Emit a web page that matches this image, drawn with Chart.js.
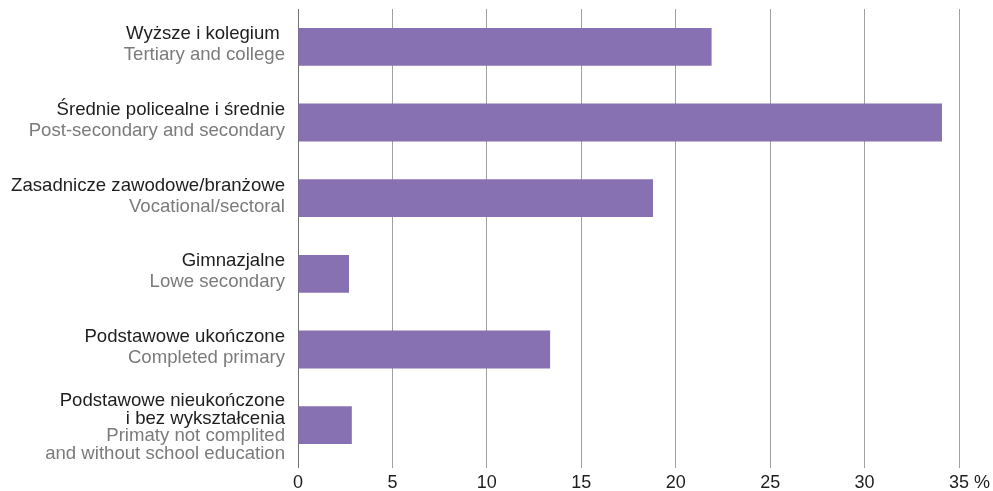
<!DOCTYPE html>
<html>
<head>
<meta charset="utf-8">
<script src="https://cdn.jsdelivr.net/npm/chart.js@4.4.1/dist/chart.umd.min.js"></script>
<style>
  html, body { margin: 0; padding: 0; background: #fff; }
  #wrap { width: 993px; height: 491px; position: relative; }
</style>
</head>
<body>
<div id="wrap"><canvas id="eduChart"></canvas></div>
<script>
const labelsPl = [
    ['Wyższe i kolegium '],
    ['Średnie policealne i średnie'],
    ['Zasadnicze zawodowe/branżowe'],
    ['Gimnazjalne'],
    ['Podstawowe ukończone'],
    ['Podstawowe nieukończone', 'i bez wykształcenia']
];
const labelsEn = [
    ['Tertiary and college'],
    ['Post-secondary and secondary'],
    ['Vocational/sectoral'],
    ['Lowe secondary'],
    ['Completed primary'],
    ['Primaty not complited', 'and without school education']
];
const shares = [21.9, 34.1, 18.8, 2.7, 13.35, 2.85];
const AXIS_MIN = 0;
const AXIS_MAX = 35;
const AXIS_STEP = 5;
const UNIT = '%';

const FONT = '"Liberation Sans", Arial, Helvetica, sans-serif';
const BAR_COLOR = '#8771b2';

// two-colour category labels, drawn next to each bar
const labelPlugin = {
    id: 'twoColourLabels',
    afterDraw(chart) {
        const ctx = chart.ctx;
        const yScale = chart.scales.y;
        const xScale = chart.scales.x;
        ctx.save();
        ctx.font = '18.6px ' + FONT;
        ctx.textAlign = 'right';
        ctx.textBaseline = 'middle';
        labelsPl.forEach((pl, i) => {
            const lines = pl.map(t => ({ t, c: '#1e1e1e' }))
                .concat(labelsEn[i].map(t => ({ t, c: '#7b7b7b' })));
            const lh = lines.length > 2 ? 17.5 : 21;
            const yc = yScale.getPixelForTick(i) - (lines.length > 2 ? -2 : 2);
            lines.forEach((ln, k) => {
                ctx.fillStyle = ln.c;
                ctx.fillText(ln.t, 285, yc + (k - (lines.length - 1) / 2) * lh);
            });
        });
        // unit after the last tick
        ctx.font = '18px ' + FONT;
        const xLast = xScale.getPixelForValue(AXIS_MAX);
        const w = ctx.measureText(String(AXIS_MAX)).width;
        ctx.textAlign = 'left';
        ctx.textBaseline = 'middle';
        ctx.fillStyle = '#1e1e1e';
        ctx.fillText(' ' + UNIT, xLast + w / 2, xScale.top + 5 + 6 + 9);
        ctx.restore();
    }
};

new Chart(document.getElementById('eduChart'), {
    type: 'bar',
    data: {
        labels: labelsPl.map(l => l.join(' ')),
        datasets: [{
            data: shares,
            backgroundColor: BAR_COLOR,
            borderWidth: 0,
            barPercentage: 0.5,
            categoryPercentage: 1
        }]
    },
    options: {
        indexAxis: 'y',
        responsive: true,
        maintainAspectRatio: false,
        animation: false,
        layout: { padding: { left: 298, right: 34, top: 9, bottom: -7 } },
        plugins: {
            legend: { display: false },
            tooltip: { enabled: false }
        },
        scales: {
            y: { display: false },
            x: {
                min: AXIS_MIN,
                max: AXIS_MAX,
                border: { display: false },
                grid: {
                    color: ctx => ctx.tick && ctx.tick.value === 0 ? '#707070' : '#a0a0a0',
                    lineWidth: 1,
                    drawTicks: true,
                    tickLength: 5
                },
                ticks: {
                    stepSize: AXIS_STEP,
                    padding: 6,
                    color: '#1e1e1e',
                    font: { family: FONT, size: 18, lineHeight: 1 },
                    maxRotation: 0
                }
            }
        }
    },
    plugins: [labelPlugin]
});
</script>
</body>
</html>
